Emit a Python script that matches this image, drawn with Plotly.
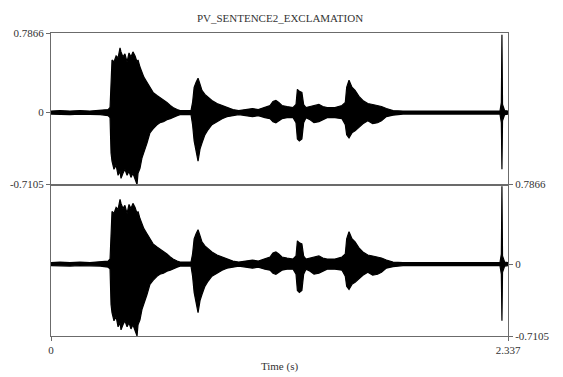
import plotly.graph_objects as go

# time (s) of each envelope point
times = [0.000, 0.046, 0.097, 0.148, 0.199, 0.251, 0.292, 0.302, 0.307, 0.312,
         0.322, 0.333, 0.343, 0.353, 0.358, 0.368, 0.378, 0.389, 0.399, 0.409,
         0.419, 0.430, 0.440, 0.445, 0.455, 0.465, 0.475, 0.491, 0.506, 0.522,
         0.542, 0.557, 0.575, 0.593, 0.610, 0.624, 0.645, 0.660, 0.695, 0.716,
         0.724, 0.732, 0.742, 0.752, 0.762, 0.772, 0.787, 0.803, 0.823, 0.849,
         0.875, 0.900, 0.930, 0.960, 1.002, 1.030, 1.060, 1.094, 1.120, 1.135,
         1.150, 1.165, 1.181, 1.207, 1.238, 1.253, 1.260, 1.270, 1.283, 1.292,
         1.304, 1.325, 1.345, 1.370, 1.390, 1.412, 1.452, 1.488, 1.505, 1.512,
         1.524, 1.539, 1.555, 1.575, 1.595, 1.620, 1.645, 1.670, 1.690, 1.715,
         1.749, 1.800, 1.900, 2.000, 2.100, 2.200, 2.296, 2.303, 2.306, 2.309,
         2.320, 2.337]

# upper / lower amplitude envelope (both channels look the same)
upper = [0.015, 0.02, 0.015, 0.02, 0.015, 0.02, 0.03, 0.05, 0.40, 0.52,
         0.50, 0.56, 0.54, 0.64, 0.60, 0.55, 0.58, 0.50, 0.59, 0.55,
         0.60, 0.56, 0.50, 0.52, 0.45, 0.40, 0.35, 0.30, 0.25, 0.20,
         0.17, 0.15, 0.12, 0.10, 0.07, 0.05, 0.03, 0.02, 0.02, 0.02,
         0.10, 0.25, 0.30, 0.34, 0.28, 0.22, 0.18, 0.15, 0.12, 0.09,
         0.07, 0.05, 0.03, 0.02, 0.03, 0.04, 0.03, 0.05, 0.07, 0.11,
         0.12, 0.10, 0.07, 0.06, 0.05, 0.08, 0.23, 0.21, 0.20, 0.08,
         0.05, 0.06, 0.07, 0.08, 0.06, 0.05, 0.05, 0.07, 0.10, 0.25,
         0.32, 0.25, 0.22, 0.16, 0.12, 0.09, 0.08, 0.07, 0.06, 0.04,
         0.02, 0.015, 0.015, 0.015, 0.015, 0.015, 0.015, 0.10, 0.77, 0.08,
         0.02, 0.015]
lower = [-0.015, -0.02, -0.02, -0.015, -0.015, -0.02, -0.03, -0.05, -0.40, -0.48,
         -0.56, -0.52, -0.62, -0.58, -0.65, -0.60, -0.56, -0.62, -0.58, -0.64,
         -0.60, -0.66, -0.7105, -0.60, -0.55, -0.45, -0.38, -0.30, -0.20, -0.16,
         -0.12, -0.10, -0.09, -0.07, -0.06, -0.05, -0.03, -0.02, -0.02, -0.02,
         -0.12, -0.28, -0.38, -0.48, -0.36, -0.30, -0.22, -0.17, -0.12, -0.09,
         -0.06, -0.04, -0.03, -0.02, -0.03, -0.04, -0.03, -0.05, -0.06, -0.09,
         -0.10, -0.08, -0.06, -0.05, -0.05, -0.10, -0.26, -0.28, -0.26, -0.10,
         -0.05, -0.07, -0.10, -0.09, -0.07, -0.05, -0.05, -0.06, -0.12, -0.22,
         -0.25, -0.20, -0.18, -0.15, -0.11, -0.08, -0.11, -0.10, -0.08, -0.04,
         -0.025, -0.015, -0.015, -0.015, -0.015, -0.015, -0.015, -0.10, -0.56, -0.08,
         -0.02, -0.015]

y_min, y_max = -0.7105, 0.7866
t_end = 2.337

font = "Liberation Serif, Times New Roman, serif"
axcol = "#6b6b6b"

fig = go.Figure()
for xa, ya in [("x", "y"), ("x2", "y2")]:
    fig.add_trace(go.Scatter(
        x=times + times[::-1], y=upper + lower[::-1],
        mode="lines", fill="toself", fillcolor="black",
        line=dict(color="black", width=1.2),
        xaxis=xa, yaxis=ya, hoverinfo="skip", showlegend=False))

fig.update_layout(
    width=563, height=377,
    margin=dict(l=51, r=55, t=33, b=41),
    paper_bgcolor="white", plot_bgcolor="white",
    font=dict(family=font, size=11, color="#333"),
    title=dict(text="PV_SENTENCE2_EXCLAMATION", x=280 / 563, xanchor="center",
               y=1 - 18 / 377, yanchor="middle", yref="container",
               font=dict(family=font, size=11, color="#333")),
    xaxis=dict(domain=[0, 1], range=[0, t_end], anchor="y", automargin=False,
               showline=True, mirror=True, linecolor=axcol, linewidth=1,
               showgrid=False, zeroline=False, showticklabels=False, ticks=""),
    yaxis=dict(domain=[0.5, 1], range=[y_min, y_max], anchor="x", automargin=False,
               tickvals=[y_min, 0, y_max], ticktext=["-0.7105", "0", "0.7866"],
               ticks="outside", ticklen=4, tickcolor=axcol,
               showline=True, mirror=True, linecolor=axcol, linewidth=1,
               showgrid=False, zeroline=False),
    xaxis2=dict(domain=[0, 1], range=[0, t_end], anchor="y2", automargin=False,
                tickvals=[0, t_end], ticktext=["0", "2.337"],
                ticks="outside", ticklen=4, tickcolor=axcol,
                showline=True, mirror=True, linecolor=axcol, linewidth=1,
                showgrid=False, zeroline=False,
                title=dict(text="Time (s)", standoff=7,
                           font=dict(family=font, size=11, color="#333"))),
    yaxis2=dict(domain=[0, 0.5], range=[y_min, y_max], anchor="x2", side="right",
                automargin=False,
                tickvals=[y_min, 0, y_max], ticktext=["-0.7105", "0", "0.7866"],
                ticks="outside", ticklen=4, tickcolor=axcol,
                showline=True, mirror=True, linecolor=axcol, linewidth=1,
                showgrid=False, zeroline=False),
)

# drop the default 8px page margin so the figure sits at the window corner
fig.write_html("out.html", config={"displayModeBar": False},
               post_script="document.body.style.margin='0';")
